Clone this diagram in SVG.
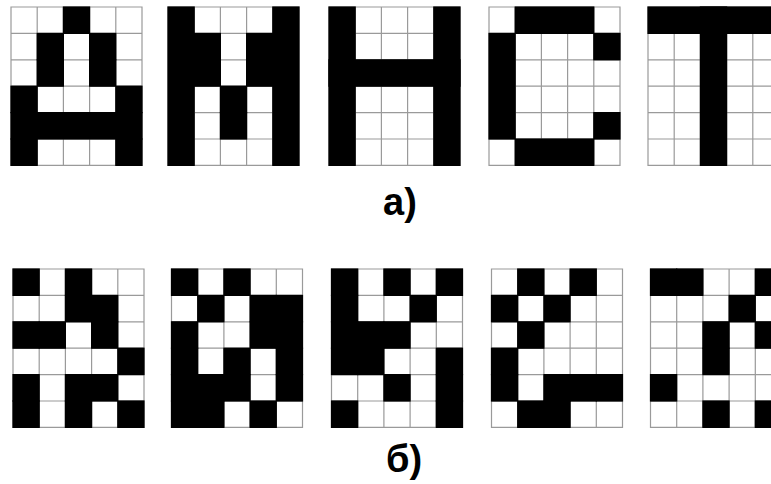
<svg xmlns="http://www.w3.org/2000/svg" xmlns:xlink="http://www.w3.org/1999/xlink" width="771" height="484" viewBox="0 0 771 484">
<style>
.b{fill:#000}
.g{fill:none;stroke:#9a9a9a;stroke-width:1.2}
.lbl{font-family:"Liberation Sans",Arial,sans-serif;font-weight:bold;font-size:38px;fill:#000;text-anchor:middle}
</style>
<defs>
<path id="grid" class="g" d="M0,0H131V158.4H0Z M26.2,0V158.4 M52.4,0V158.4 M78.6,0V158.4 M104.8,0V158.4 M0,26.4H131 M0,52.8H131 M0,79.2H131 M0,105.6H131 M0,132H131"/>
<rect id="c" class="b" x="-0.6" y="-0.6" width="27.4" height="27.6"/>
</defs>
<rect width="771" height="484" fill="#fff"/>
<g id="top-A" transform="translate(11,7)">
<use xlink:href="#grid"/>
<use xlink:href="#c" x="52.4" y="0"/>
<use xlink:href="#c" x="26.2" y="26.4"/><use xlink:href="#c" x="78.6" y="26.4"/>
<use xlink:href="#c" x="26.2" y="52.8"/><use xlink:href="#c" x="78.6" y="52.8"/>
<use xlink:href="#c" x="0" y="79.2"/><use xlink:href="#c" x="104.8" y="79.2"/>
<rect class="b" x="-0.6" y="105" width="132.2" height="27.6"/>
<use xlink:href="#c" x="0" y="132"/><use xlink:href="#c" x="104.8" y="132"/>
</g>
<g id="top-M" transform="translate(168,7)">
<use xlink:href="#grid"/>
<rect class="b" x="-0.6" y="-0.6" width="27.4" height="159.6"/>
<rect class="b" x="104.2" y="-0.6" width="27.4" height="159.6"/>
<use xlink:href="#c" x="26.2" y="26.4"/><use xlink:href="#c" x="78.6" y="26.4"/>
<use xlink:href="#c" x="26.2" y="52.8"/><use xlink:href="#c" x="78.6" y="52.8"/>
<use xlink:href="#c" x="52.4" y="79.2"/><use xlink:href="#c" x="52.4" y="105.6"/>
</g>
<g id="top-H" transform="translate(329,7)">
<use xlink:href="#grid"/>
<rect class="b" x="-0.6" y="-0.6" width="27.4" height="159.6"/>
<rect class="b" x="104.2" y="-0.6" width="27.4" height="159.6"/>
<rect class="b" x="-0.6" y="52.2" width="132.2" height="27.6"/>
</g>
<g id="top-C" transform="translate(489,7)">
<use xlink:href="#grid"/>
<rect class="b" x="25.6" y="-0.6" width="79.8" height="27.6"/>
<rect class="b" x="25.6" y="131.4" width="79.8" height="27.6"/>
<rect class="b" x="-0.6" y="25.8" width="27.4" height="106.8"/>
<use xlink:href="#c" x="104.8" y="26.4"/><use xlink:href="#c" x="104.8" y="105.6"/>
</g>
<g id="top-T" transform="translate(648,7)">
<use xlink:href="#grid"/>
<rect class="b" x="-0.6" y="-0.6" width="132.2" height="27.6"/>
<rect class="b" x="51.8" y="-0.6" width="27.4" height="159.6"/>
</g>
<text class="lbl" x="400" y="215">а)</text>
<g id="noisy-1" transform="translate(13,269)">
<use xlink:href="#grid"/>
<use xlink:href="#c" x="0" y="0"/><use xlink:href="#c" x="52.4" y="0"/>
<use xlink:href="#c" x="52.4" y="26.4"/><use xlink:href="#c" x="78.6" y="26.4"/>
<use xlink:href="#c" x="0" y="52.8"/><use xlink:href="#c" x="26.2" y="52.8"/><use xlink:href="#c" x="78.6" y="52.8"/>
<use xlink:href="#c" x="104.8" y="79.2"/>
<use xlink:href="#c" x="0" y="105.6"/><use xlink:href="#c" x="52.4" y="105.6"/><use xlink:href="#c" x="78.6" y="105.6"/>
<use xlink:href="#c" x="0" y="132"/><use xlink:href="#c" x="52.4" y="132"/><use xlink:href="#c" x="104.8" y="132"/>
</g>
<g id="noisy-2" transform="translate(171.5,269)">
<use xlink:href="#grid"/>
<use xlink:href="#c" x="0" y="0"/><use xlink:href="#c" x="52.4" y="0"/>
<use xlink:href="#c" x="26.2" y="26.4"/><use xlink:href="#c" x="78.6" y="26.4"/><use xlink:href="#c" x="104.8" y="26.4"/>
<use xlink:href="#c" x="0" y="52.8"/><use xlink:href="#c" x="78.6" y="52.8"/><use xlink:href="#c" x="104.8" y="52.8"/>
<use xlink:href="#c" x="0" y="79.2"/><use xlink:href="#c" x="52.4" y="79.2"/><use xlink:href="#c" x="104.8" y="79.2"/>
<use xlink:href="#c" x="0" y="105.6"/><use xlink:href="#c" x="26.2" y="105.6"/><use xlink:href="#c" x="52.4" y="105.6"/><use xlink:href="#c" x="104.8" y="105.6"/>
<use xlink:href="#c" x="0" y="132"/><use xlink:href="#c" x="26.2" y="132"/><use xlink:href="#c" x="78.6" y="132"/>
</g>
<g id="noisy-3" transform="translate(331.5,269)">
<use xlink:href="#grid"/>
<use xlink:href="#c" x="0" y="0"/><use xlink:href="#c" x="52.4" y="0"/><use xlink:href="#c" x="104.8" y="0"/>
<use xlink:href="#c" x="0" y="26.4"/><use xlink:href="#c" x="78.6" y="26.4"/>
<use xlink:href="#c" x="0" y="52.8"/><use xlink:href="#c" x="26.2" y="52.8"/><use xlink:href="#c" x="52.4" y="52.8"/>
<use xlink:href="#c" x="0" y="79.2"/><use xlink:href="#c" x="26.2" y="79.2"/><use xlink:href="#c" x="104.8" y="79.2"/>
<use xlink:href="#c" x="52.4" y="105.6"/><use xlink:href="#c" x="104.8" y="105.6"/>
<use xlink:href="#c" x="0" y="132"/><use xlink:href="#c" x="104.8" y="132"/>
</g>
<g id="noisy-4" transform="translate(491.5,269)">
<use xlink:href="#grid"/>
<use xlink:href="#c" x="26.2" y="0"/><use xlink:href="#c" x="78.6" y="0"/>
<use xlink:href="#c" x="0" y="26.4"/><use xlink:href="#c" x="52.4" y="26.4"/>
<use xlink:href="#c" x="26.2" y="52.8"/>
<use xlink:href="#c" x="0" y="79.2"/>
<use xlink:href="#c" x="0" y="105.6"/><use xlink:href="#c" x="52.4" y="105.6"/><use xlink:href="#c" x="78.6" y="105.6"/><use xlink:href="#c" x="104.8" y="105.6"/>
<use xlink:href="#c" x="26.2" y="132"/><use xlink:href="#c" x="52.4" y="132"/>
</g>
<g id="noisy-5" transform="translate(650.5,269)">
<use xlink:href="#grid"/>
<use xlink:href="#c" x="0" y="0"/><use xlink:href="#c" x="26.2" y="0"/><use xlink:href="#c" x="104.8" y="0"/>
<use xlink:href="#c" x="78.6" y="26.4"/>
<use xlink:href="#c" x="52.4" y="52.8"/><use xlink:href="#c" x="104.8" y="52.8"/>
<use xlink:href="#c" x="52.4" y="79.2"/>
<use xlink:href="#c" x="0" y="105.6"/>
<use xlink:href="#c" x="52.4" y="132"/><use xlink:href="#c" x="104.8" y="132"/>
</g>
<text class="lbl" x="404" y="472">б)</text>
</svg>
